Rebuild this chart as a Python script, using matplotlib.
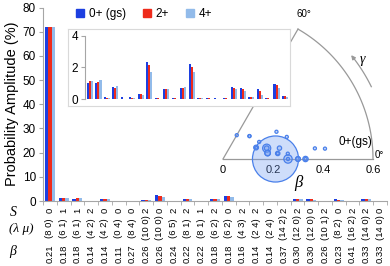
import numpy as np
import matplotlib
matplotlib.use("Agg")
import matplotlib.pyplot as plt
from matplotlib.patches import Patch

plt.rcParams['font.family'] = ['Liberation Sans Narrow', 'Liberation Sans', 'DejaVu Sans']

# data
S = [0, 1, 1, 2, 0, 0, 0, 2, 0, 2, 2, 1, 2, 0, 2, 2, 0, 2, 2, 0, 2, 0, 2, 2, 0]
lam_mu = ["(8 0)", "(6 1)", "(6 1)", "(4 2)", "(4 2)", "(0 4)", "(8 4)", "(10 0)", "(10 0)",
          "(6 5)", "(8 1)", "(8 1)", "(6 2)", "(6 2)", "(4 3)", "(2 4)", "(2 4)", "(14 2)",
          "(12 0)", "(12 0)", "(10 1)", "(8 2)", "(16 2)", "(14 0)", "(14 0)"]
beta = [0.21, 0.18, 0.18, 0.14, 0.14, 0.11, 0.27, 0.26, 0.26, 0.24, 0.22, 0.22, 0.18,
        0.18, 0.16, 0.14, 0.14, 0.37, 0.30, 0.30, 0.26, 0.23, 0.41, 0.33, 0.33]
gamma_deg = [0, 7.6, 7.6, 19.1, 19.1, 60, 19.1, 0, 0, 27.0, 5.8, 5.8, 13.9, 13.9,
             25.3, 40.9, 40.9, 6.6, 0, 0, 4.7, 10.9, 5.8, 0, 0]
amp_0 = [72, 1.05, 1.03, 0.15, 0.76, 0.15, 0.12, 0.34, 2.36, 0.08, 0.65, 0.08, 0.72,
         2.23, 0.10, 0.10, 0.10, 0.08, 0.76, 0.72, 0.15, 0.63, 0.08, 0.97, 0.19]
amp_2 = [72, 1.12, 1.09, 0.08, 0.74, 0.0, 0.10, 0.34, 2.15, 0.08, 0.65, 0.08, 0.72,
         2.04, 0.10, 0.10, 0.0, 0.08, 0.72, 0.65, 0.15, 0.50, 0.08, 0.88, 0.19]
amp_4 = [72, 1.16, 1.20, 0.10, 0.86, 0.0, 0.10, 0.30, 1.70, 0.0, 0.65, 0.0, 0.78,
         1.70, 0.10, 0.0, 0.0, 0.0, 0.65, 0.53, 0.12, 0.30, 0.0, 0.74, 0.15]
series = ["0+ (gs)", "2+", "4+"]
colors = ["#1c3fe0", "#ee2b1b", "#92bbea"]

W, H = 390, 266
fig = plt.figure(figsize=(W / 100, H / 100), dpi=100)

def rect(x0, y0, x1, y1):
    # pixel box -> figure fraction
    return [x0 / W, 1 - y1 / H, (x1 - x0) / W, (y1 - y0) / H]

x = np.arange(len(S))
amps = [amp_0, amp_2, amp_4]
bw = 0.24
gray = "#a6a6a6"

# main bar chart
ax = fig.add_axes(rect(43, 7.5, 387, 201))
for k in range(3):
    ax.bar(x + (k - 1) * bw, amps[k], bw, color=colors[k], linewidth=0)
ax.set_xlim(-0.5, 24.5)
ax.set_ylim(0, 80)
ax.set_yticks(range(0, 81, 10))
ax.set_xticks([])
ax.set_xticks(np.arange(-0.5, 25, 1), minor=True)
ax.tick_params(axis='x', which='minor', length=3, color=gray, labelbottom=False)
ax.tick_params(axis='y', length=3, color=gray, labelsize=8.5, pad=2)
for sp in ["top", "right"]:
    ax.spines[sp].set_visible(False)
for sp in ["left", "bottom"]:
    ax.spines[sp].set_color(gray)
ax.set_ylabel("Probability Amplitude (%)", fontsize=10.5, labelpad=3,
              family=['Liberation Sans', 'DejaVu Sans'])

tr = ax.get_xaxis_transform()
def ypos(py):
    return (201 - py) / (201 - 7.5)
for i in x:
    ax.text(i, ypos(210), str(S[i]), rotation=90, ha='center', va='center',
            fontsize=6.8, transform=tr, clip_on=False)
    ax.text(i, ypos(228), lam_mu[i], rotation=90, ha='center', va='center',
            fontsize=6.8, transform=tr, clip_on=False)
    ax.text(i, ypos(254), "%.2f" % beta[i], rotation=90, ha='center', va='center',
            fontsize=6.8, transform=tr, clip_on=False)
serif = ['Liberation Serif', 'DejaVu Serif']
fig.text(13 / W, 1 - 212 / H, "S", style='italic', family=serif, fontsize=10,
         ha='center', va='center')
fig.text(21 / W, 1 - 229 / H, "(λ μ)", style='italic', family=serif, fontsize=9.5,
         ha='center', va='center')
fig.text(13 / W, 1 - 252 / H, "β", style='italic', family=serif, fontsize=10,
         ha='center', va='center')

# (beta, gamma) sector
ox, oy, sc = 223, 159, 250.0
tx0, tx1, ty0, ty1 = 200, 390, 10, 190
ax3 = fig.add_axes(rect(tx0, ty0, tx1, ty1))
ax3.set_xlim((tx0 - ox) / sc, (tx1 - ox) / sc)
ax3.set_ylim((oy - ty1) / sc, (oy - ty0) / sc)
ax3.axis('off')
t = np.radians(np.linspace(0, 60, 100))
ax3.plot(0.6 * np.cos(t), 0.6 * np.sin(t), color='#999999', lw=0.9)
ax3.plot([0, 0.6], [0, 0], color='#999999', lw=0.9)
ax3.plot([0, 0.6 * np.cos(np.pi / 3)], [0, 0.6 * np.sin(np.pi / 3)], color='#999999', lw=0.9)
ta = np.radians(np.linspace(26, 38, 30))
ax3.plot(0.66 * np.cos(ta), 0.66 * np.sin(ta), color='#999999', lw=0.9)
ax3.annotate("", xy=(0.66 * np.cos(np.radians(40)), 0.66 * np.sin(np.radians(40))),
             xytext=(0.66 * np.cos(np.radians(37)), 0.66 * np.sin(np.radians(37))),
             arrowprops=dict(arrowstyle='-|>', color='#999999', lw=0.9, mutation_scale=6))
ax3.text(0.56, 0.40, "γ", style='italic', family=serif, fontsize=10, ha='center', va='center')
for v in [0, 0.2, 0.4, 0.6]:
    ax3.text(v, -0.045, "%g" % v if v else "0", ha='center', va='center', fontsize=8)
ax3.text(0.30, -0.095, "β", style='italic', family=serif, fontsize=12, ha='center', va='center')
ax3.text(0.608, 0.014, "0°", fontsize=7, ha='left', va='center')
ax3.text(0.325, 0.56, "60°", fontsize=7, ha='center', va='bottom')
ax3.text(0.53, 0.068, "0+(gs)", fontsize=8.5, ha='center', va='center')
g = np.radians(gamma_deg)
bx = np.array(beta) * np.cos(g)
by = np.array(beta) * np.sin(g)
sizes = np.maximum(1100 * np.array(amp_0) / 72.0, 5)
order = np.argsort(-sizes)
ax3.scatter(bx[order], by[order], s=sizes[order], facecolor=(0.45, 0.62, 0.95, 0.35),
            edgecolor='#4a80ea', linewidth=0.9, zorder=3)

# frame of the inset
axf = fig.add_axes(rect(68, 29, 290, 106))
axf.set_xticks([])
axf.set_yticks([])
for sp in axf.spines.values():
    sp.set_color('#d9d9d9')

# inset zoom of the small amplitudes
axi = fig.add_axes(rect(85, 35.7, 289, 99.3))
axi.patch.set_alpha(0)
for k in range(3):
    axi.bar(x[1:] + (k - 1) * bw, amps[k][1:], bw, color=colors[k], linewidth=0)
axi.set_xlim(0.41, 24.47)
axi.set_ylim(0, 4)
axi.set_yticks([0, 2, 4])
axi.set_xticks([])
axi.tick_params(axis='y', length=3, color=gray, labelsize=8.5, pad=2)
for sp in ["top", "right", "bottom"]:
    axi.spines[sp].set_visible(False)
axi.spines["left"].set_color(gray)

handles = [Patch(color=c) for c in colors]
fig.legend(handles, series, loc='center', bbox_to_anchor=(144 / W, 1 - 14 / H), ncol=3,
           frameon=False, fontsize=8.5, handlelength=0.7, handleheight=0.7,
           handletextpad=0.4, columnspacing=1.4)

fig.savefig("out.png", dpi=100)
